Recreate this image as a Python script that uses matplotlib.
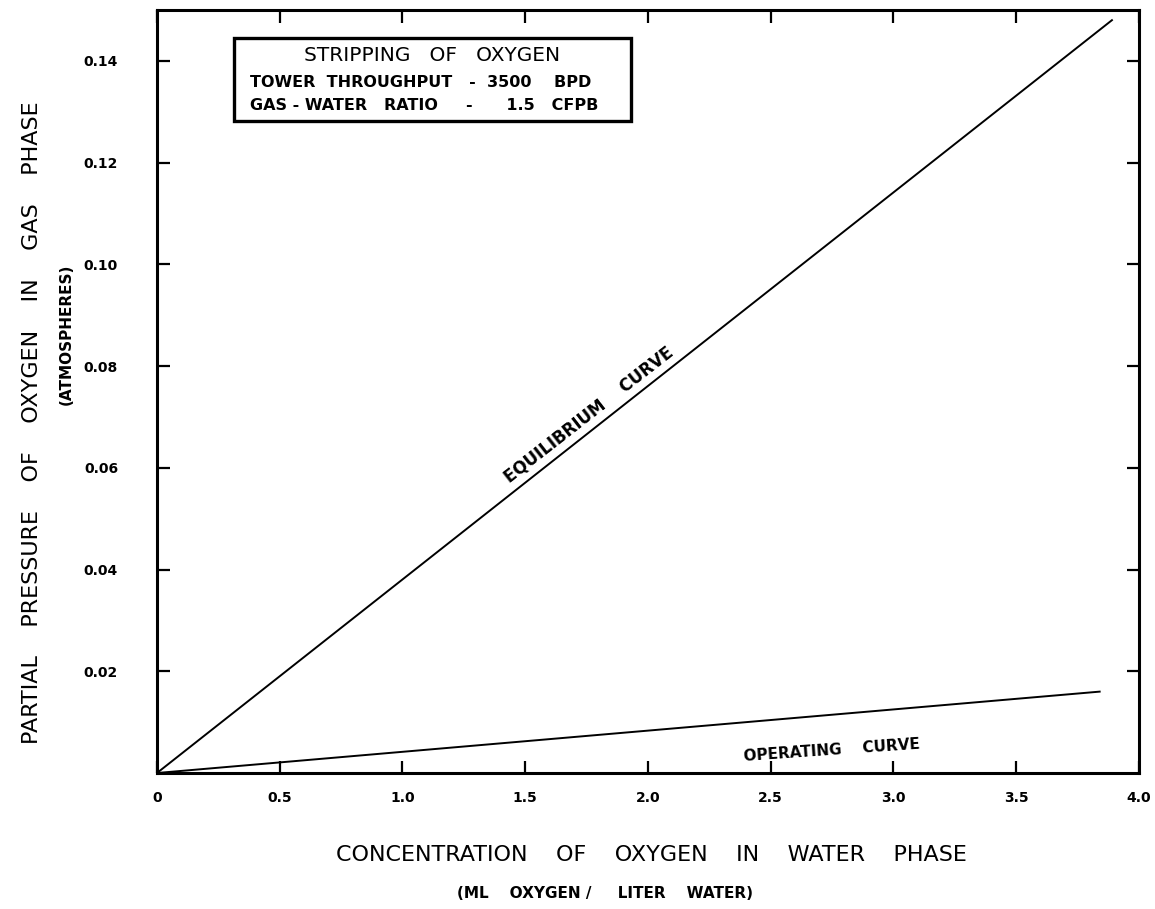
import matplotlib
matplotlib.use("Agg")
import matplotlib.pyplot as plt

# values
x_ticks = [0, 0.5, 1.0, 1.5, 2.0, 2.5, 3.0, 3.5, 4.0]
x_tick_labels = ["0", "0.5", "1.0", "1.5", "2.0", "2.5", "3.0", "3.5", "4.0"]
y_ticks = [0.02, 0.04, 0.06, 0.08, 0.10, 0.12, 0.14]
y_tick_labels = ["0.02", "0.04", "0.06", "0.08", "0.10", "0.12", "0.14"]

equil_x = [0.0, 3.89]
equil_y = [0.0, 0.148]
oper_x = [0.0, 3.84]
oper_y = [0.0, 0.0160]

fig = plt.figure(figsize=(11.55, 9.09), dpi=100)
ax = fig.add_axes([0.1359, 0.1496, 0.8502, 0.8394])

ax.plot(equil_x, equil_y, color="black", lw=1.4)
ax.plot(oper_x, oper_y, color="black", lw=1.4)

ax.set_xlim(0, 4.0)
ax.set_ylim(0, 0.15)

ax.set_xticks(x_ticks)
ax.set_xticklabels(x_tick_labels, fontsize=10, fontweight="bold")
ax.set_yticks(y_ticks)
ax.set_yticklabels(y_tick_labels, fontsize=10, fontweight="bold")
ax.tick_params(direction="in", length=9, width=1.6, top=True, right=True)
ax.tick_params(axis="x", pad=13)
ax.tick_params(axis="y", pad=28)
for s in ax.spines.values():
    s.set_linewidth(2.2)

# curve labels
ax.text(1.78, 0.0690, "EQUILIBRIUM    CURVE", rotation=38, fontsize=12, fontweight="bold",
        ha="center", va="bottom", rotation_mode="anchor")
ax.text(2.75, 0.0045, "OPERATING    CURVE", rotation=4, fontsize=11, fontweight="bold",
        ha="center", va="center", rotation_mode="anchor")

# boxed title
fig.text(0.3745, 0.939, "STRIPPING   OF   OXYGEN", fontsize=14.5, ha="center", va="center")
fig.text(0.2165, 0.909, "TOWER  THROUGHPUT   -  3500    BPD", fontsize=11.5, fontweight="bold",
         ha="left", va="center")
fig.text(0.2165, 0.884, "GAS - WATER   RATIO     -      1.5   CFPB", fontsize=11.5,
         fontweight="bold", ha="left", va="center")
box = plt.Rectangle((234 / 1155, 1 - 121 / 909), (631 - 234) / 1155, (121 - 38) / 909,
                    transform=fig.transFigure, fill=False, lw=2.4, color="black")
fig.patches.append(box)

# axis labels
fig.text(0.028, 0.535, "PARTIAL    PRESSURE    OF    OXYGEN    IN    GAS    PHASE", rotation=90,
         fontsize=16, ha="center", va="center")
fig.text(0.057, 0.632, "(ATMOSPHERES)", rotation=90, fontsize=11, fontweight="bold",
         ha="center", va="center")
fig.text(0.564, 0.059, "CONCENTRATION    OF    OXYGEN    IN    WATER    PHASE", fontsize=16,
         ha="center", va="center")
fig.text(0.524, 0.017, "(ML    OXYGEN /     LITER    WATER)", fontsize=11, fontweight="bold",
         ha="center", va="center")

fig.savefig("out.png", dpi=100)
